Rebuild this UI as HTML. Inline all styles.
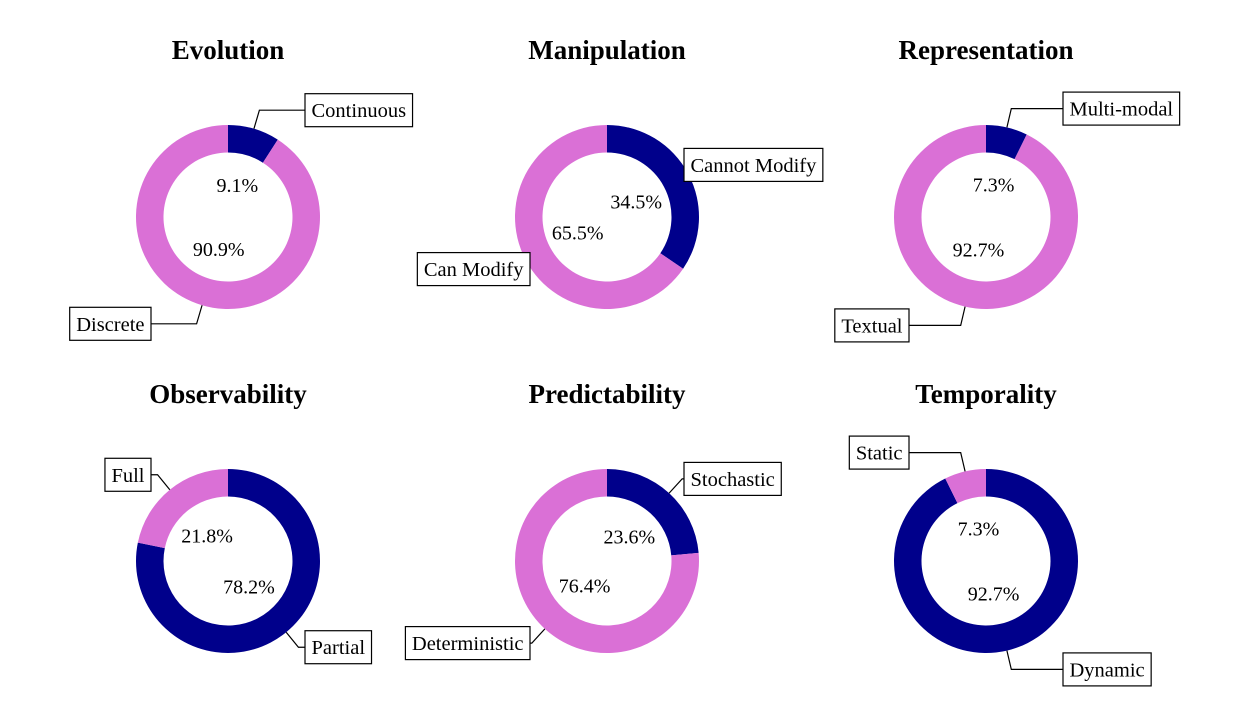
<!DOCTYPE html>
<html><head><meta charset="utf-8"><style>
body{margin:0;background:#fff}
svg text{font-family:"Liberation Serif",serif}
</style></head><body>
<svg id="chart" width="1240" height="696" viewBox="0 0 1240 696"></svg>
<script>
const titles=["Evolution","Manipulation","Representation","Observability","Predictability","Temporality"];
const darkLabels=["Continuous","Cannot Modify","Multi-modal","Partial","Stochastic","Dynamic"];
const lightLabels=["Discrete","Can Modify","Textual","Full","Deterministic","Static"];
const darkValues=[9.1,34.5,7.3,78.2,23.6,92.7];
const lightValues=[90.9,65.5,92.7,21.8,76.4,7.3];

const NS="http://www.w3.org/2000/svg";
const svg=document.getElementById('chart');
const colX=[228,607,986], rowY=[217,561], titleY=[59,403];
const R=92, r=64.5, DARK="#00008b", LIGHT="#da70d6";
function mk(tag,attrs,parent){const e=document.createElementNS(NS,tag);for(const k in attrs)e.setAttribute(k,attrs[k]);(parent||svg).appendChild(e);return e;}
function pt(cx,cy,rad,deg){const a=deg*Math.PI/180;return [cx+rad*Math.sin(a),cy-rad*Math.cos(a)];}
function arc(cx,cy,a0,a1){
  const large=(a1-a0)>180?1:0;
  const p0=pt(cx,cy,R,a0),p1=pt(cx,cy,R,a1),q1=pt(cx,cy,r,a1),q0=pt(cx,cy,r,a0);
  return `M${p0[0]},${p0[1]} A${R},${R} 0 ${large} 1 ${p1[0]},${p1[1]} L${q1[0]},${q1[1]} A${r},${r} 0 ${large} 0 ${q0[0]},${q0[1]} Z`;
}
for(let i=0;i<titles.length;i++){
  const cx=colX[i%3], cy=rowY[Math.floor(i/3)];
  const g=mk('g',{});
  
  
  const t=mk('text',{x:cx,y:titleY[Math.floor(i/3)],'text-anchor':'middle','font-size':27,'font-weight':'bold'},g);
  t.textContent=titles[i];
  
  
  const total=darkValues[i]+lightValues[i];
  const vals=[darkValues[i],lightValues[i]], cols=[DARK,LIGHT], labs=[darkLabels[i],lightLabels[i]];
  let a=0;
  const mids=[];
  vals.forEach((v,k)=>{
    const span=v/total*360;
    const p=mk('path',{d:arc(cx,cy,a,a+span),fill:cols[k]},g);
    
    
    mids.push(a+span/2);
    a+=span;
  });
  vals.forEach((v,k)=>{
    const m=mids[k];
    const lp=pt(cx,cy,R*0.36,m);
    const pct=mk('text',{x:lp[0],y:lp[1]+7,'text-anchor':'middle','font-size':20},g);
    pct.textContent=v.toFixed(1)+'%';
    
    
    const rad=m*Math.PI/180, s=Math.sin(rad), c=Math.cos(rad);
    const ty=cy-1.21*R*c;
    const sign=s>=0?1:-1;
    const edgeX=cx+77*sign;
    const tt=(cy-ty)/c;
    let cornerX=cx+s*tt;
    const wp=pt(cx,cy,R,m);
    const line=mk('polyline',{points:`${edgeX},${ty} ${cornerX},${ty} ${wp[0]},${wp[1]}`,fill:'none',stroke:'#000','stroke-width':1.2},g);
    
    
    const txt=mk('text',{x:0,y:ty+7,'font-size':20.5},g);
    txt.textContent=labs[k];
    const w=txt.getComputedTextLength();
    const bx=sign>0?edgeX:edgeX-(w+13);
    txt.setAttribute('x',bx+6.5);
    const box=mk('rect',{x:bx,y:ty-16.5,width:w+13,height:33,fill:'#fff',stroke:'#000','stroke-width':1.2},g);
    g.insertBefore(box,txt);
    
    
    
    
  });
}
</script>
</body></html>
